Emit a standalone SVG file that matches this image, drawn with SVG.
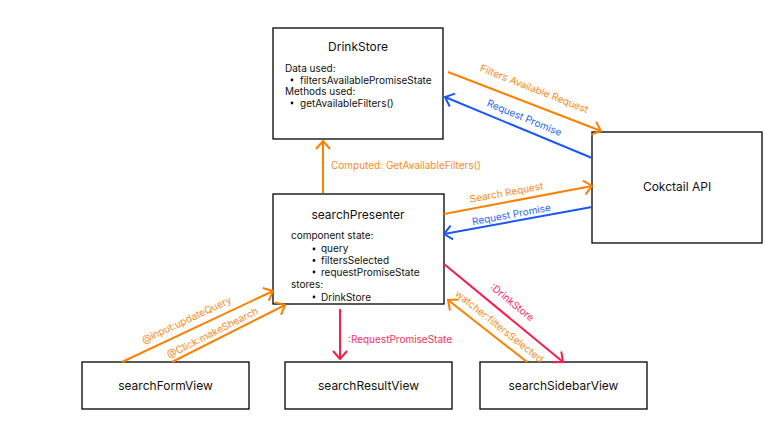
<svg xmlns="http://www.w3.org/2000/svg" width="768" height="425" viewBox="0 0 768 425">
<style>
.box{fill:#fff;stroke:#000;stroke-width:1.3}
.t{font-family:Inter,"Liberation Sans",sans-serif;fill:#111}
.title{font-size:12px;text-anchor:middle}
.body{font-size:10px}
.lbl{font-family:Inter,"Liberation Sans",sans-serif;font-size:10px}
.o{stroke:#ff8000;stroke-width:2;fill:none}
.b{stroke:#1a56ff;stroke-width:2;fill:none}
.r{stroke:#ff1a4a;stroke-width:2;fill:none}
.ot{fill:#ff8c1a}
.bt{fill:#2a66ff}
.rt{fill:#ff2f5c}
</style>
<defs>
<marker id="ao" viewBox="0 0 10 16" refX="9" refY="8" markerWidth="10" markerHeight="16" markerUnits="userSpaceOnUse" orient="auto"><path d="M1,1 L9,8 L1,15" fill="none" stroke="#ff8000" stroke-width="2"/></marker>
<marker id="ab" viewBox="0 0 10 16" refX="9" refY="8" markerWidth="10" markerHeight="16" markerUnits="userSpaceOnUse" orient="auto"><path d="M1,1 L9,8 L1,15" fill="none" stroke="#1a56ff" stroke-width="2"/></marker>
<marker id="ar" viewBox="0 0 10 16" refX="9" refY="8" markerWidth="10" markerHeight="16" markerUnits="userSpaceOnUse" orient="auto"><path d="M1,1 L9,8 L1,15" fill="none" stroke="#ff1a4a" stroke-width="2"/></marker>
</defs>
<rect width="768" height="425" fill="#fff"/>
<g id="drinkStore">
<rect class="box" x="273" y="28" width="170" height="111"/>
<text class="t title" x="358" y="51">DrinkStore</text>
<text class="t body" x="285" y="72">Data used:</text>
<circle cx="292" cy="80" r="1.4" fill="#111"/>
<text class="t body" x="300" y="83.5">filtersAvailablePromiseState</text>
<text class="t body" x="285" y="95">Methods used:</text>
<circle cx="292" cy="103" r="1.4" fill="#111"/>
<text class="t body" x="300" y="106.5">getAvailableFilters()</text>
</g>
<g id="cocktailApi">
<rect class="box" x="592" y="132" width="170" height="111"/>
<text class="t title" x="677" y="191">Cokctail API</text>
</g>
<g id="searchPresenter">
<rect class="box" x="273" y="194" width="171" height="110"/>
<text class="t title" x="358" y="219">searchPresenter</text>
<text class="t body" x="291" y="239">component state:</text>
<circle cx="314" cy="249" r="1.4" fill="#111"/>
<text class="t body" x="321" y="252">query</text>
<circle cx="314" cy="260.5" r="1.4" fill="#111"/>
<text class="t body" x="321" y="264">filtersSelected</text>
<circle cx="314" cy="272" r="1.4" fill="#111"/>
<text class="t body" x="321" y="275.5">requestPromiseState</text>
<text class="t body" x="291" y="287.5">stores:</text>
<circle cx="314" cy="297" r="1.4" fill="#111"/>
<text class="t body" x="321" y="300.5">DrinkStore</text>
</g>
<g id="searchFormView">
<rect class="box" x="82" y="362" width="167" height="47"/>
<text class="t title" x="165.5" y="389.5">searchFormView</text>
</g>
<g id="searchResultView">
<rect class="box" x="285" y="362" width="167" height="47"/>
<text class="t title" x="368.5" y="389.5">searchResultView</text>
</g>
<g id="searchSidebarView">
<rect class="box" x="480" y="362" width="167" height="47"/>
<text class="t title" x="563.5" y="389.5">searchSidebarView</text>
</g>
<g id="connectors">
<line class="o" x1="323" y1="193" x2="323" y2="141" marker-end="url(#ao)"/>
<text class="lbl ot" x="331" y="169">Computed: GetAvailableFilters()</text>
<line class="o" x1="448" y1="72" x2="601" y2="131" marker-end="url(#ao)"/>
<text class="lbl ot" text-anchor="middle" transform="translate(533,92) rotate(21.5)">Filters Available Request</text>
<line class="b" x1="592" y1="158" x2="445" y2="97" marker-end="url(#ab)"/>
<text class="lbl bt" text-anchor="middle" transform="translate(523,121) rotate(22.4)">Request Promise</text>
<line class="o" x1="444" y1="214" x2="592" y2="186" marker-end="url(#ao)"/>
<text class="lbl ot" text-anchor="middle" transform="translate(507,196) rotate(-10.5)">Search Request</text>
<line class="b" x1="592" y1="207" x2="444" y2="234" marker-end="url(#ab)"/>
<text class="lbl bt" text-anchor="middle" transform="translate(512,218) rotate(-10.5)">Request Promise</text>
<line class="o" x1="122" y1="362" x2="273" y2="291" marker-end="url(#ao)"/>
<text class="lbl ot" text-anchor="middle" transform="translate(188,323) rotate(-25)">@input:updateQuery</text>
<line class="o" x1="172" y1="362" x2="285" y2="305" marker-end="url(#ao)"/>
<text class="lbl ot" text-anchor="middle" transform="translate(214,336) rotate(-26.8)">@Click:makeShearch</text>
<line class="r" x1="340" y1="309" x2="340" y2="359" marker-end="url(#ar)"/>
<text class="lbl rt" x="348" y="343">:RequestPromiseState</text>
<line class="r" x1="444" y1="264" x2="563" y2="362" marker-end="url(#ar)"/>
<text class="lbl rt" text-anchor="middle" transform="translate(510,305) rotate(39.3)">:DrinkStore</text>
<line class="o" x1="527" y1="362" x2="448" y2="300" marker-end="url(#ao)"/>
<text class="lbl ot" text-anchor="middle" transform="translate(497,329) rotate(38.5)">watcher:filtersSelected</text>
</g>
</svg>
